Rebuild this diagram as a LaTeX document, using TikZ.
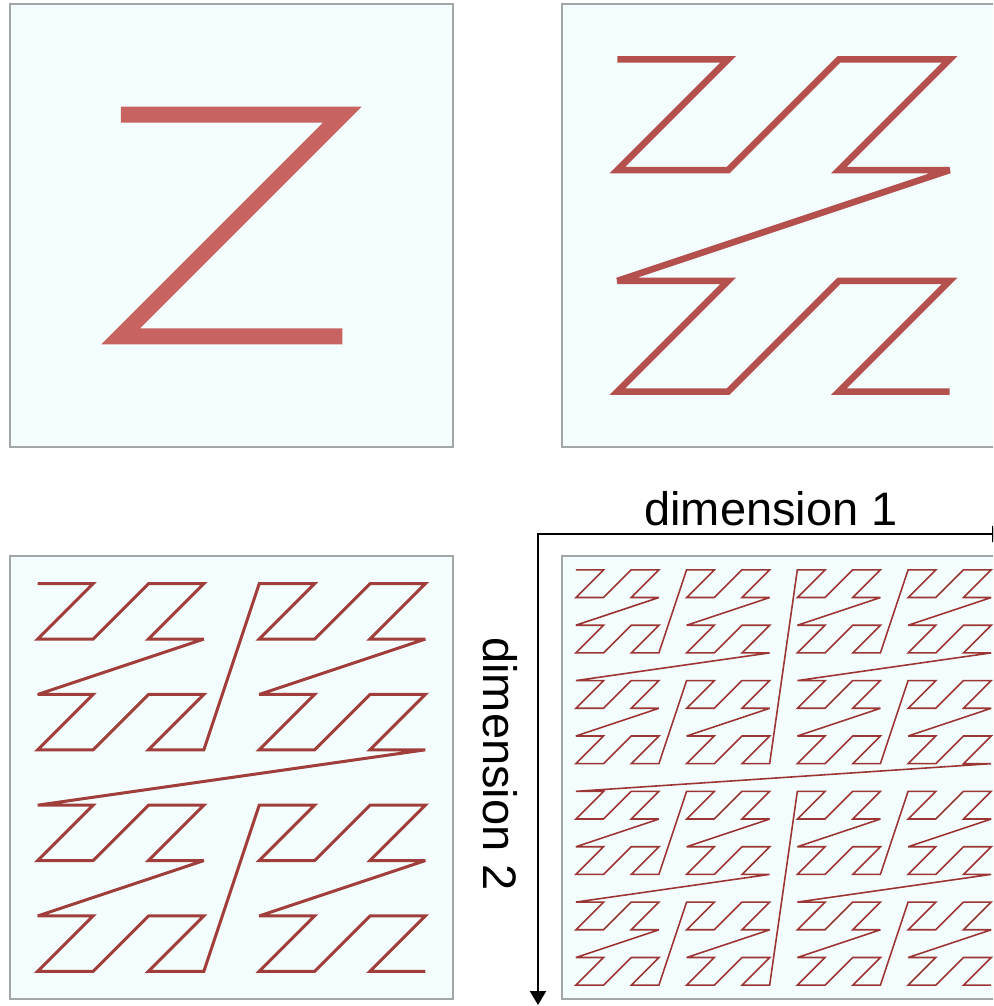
\documentclass[tikz,border=0pt]{standalone}
\usepackage{fontspec}
\newfontfamily\labelfont{Liberation Sans}
\usetikzlibrary{arrows.meta}
\definecolor{panelbg}{HTML}{F4FDFD}
\definecolor{panelframe}{HTML}{A2A6A6}
\definecolor{zone}{HTML}{C76361}
\definecolor{ztwo}{HTML}{B4504E}
\definecolor{zthree}{HTML}{A03E3C}
\definecolor{zfour}{HTML}{9C3634}
\tikzset{
  panel/.style={draw=panelframe, fill=panelbg, line width=2pt},
  zline/.style={line join=miter, miter limit=4, line cap=butt},
  axisline/.style={line width=2.3pt, black, {Triangle[length=14pt,width=16pt]}-{Triangle[length=14pt,width=16pt]}},
  dimlabel/.style={font=\labelfont\fontsize{47}{50}\selectfont, inner sep=0pt, anchor=base}
}
% #1,#2: top-left corner of panel, #3: level, #4: style
\newcommand\zordercurve[4]{%
  \pgfmathsetmacro\zcell{443/(2^#3)}%
  \pgfmathtruncatemacro\zlast{4^#3-1}%
  \draw[zline,#4] ({#1+0.5*\zcell},{#2+0.5*\zcell})
    \foreach \k [evaluate=\k as \zx using {mod(\k,2)+2*mod(floor(\k/4),2)+4*mod(floor(\k/16),2)+8*mod(floor(\k/64),2)},
                 evaluate=\k as \zy using {mod(floor(\k/2),2)+2*mod(floor(\k/8),2)+4*mod(floor(\k/32),2)+8*mod(floor(\k/128),2)}]
      in {1,...,\zlast} { -- ({#1+(\zx+0.5)*\zcell},{#2+(\zy+0.5)*\zcell}) };
}
\begin{document}
\begin{tikzpicture}[x=1pt,y=-1pt]
\useasboundingbox (0,0) rectangle (993,1006);
\clip (0,0) rectangle (993,1006);
% panels
\path[panel] (10,4) rectangle (453,447);
\path[panel] (562,4) rectangle (1005,447);
\path[panel] (10,556) rectangle (453,999);
\path[panel] (562,556) rectangle (1005,999);
% curves
\zordercurve{10}{4}{1}{draw=zone, line width=16pt}
\zordercurve{562}{4}{2}{draw=ztwo, line width=6.5pt}
\zordercurve{10}{556}{3}{draw=zthree, line width=3pt}
\zordercurve{562}{556}{4}{draw=zfour, line width=1.6pt}
% axes
\coordinate (corner) at (538,534);
\coordinate (xend) at (1006,534);
\coordinate (yend) at (538,1005);
\draw[axisline] (xend) -- (corner) -- (yend);
\node[dimlabel] (dimone) at (771,525) {dimension 1};
\node[dimlabel, rotate=-90] (dimtwo) at (483,764) {dimension 2};
\end{tikzpicture}
\end{document}
